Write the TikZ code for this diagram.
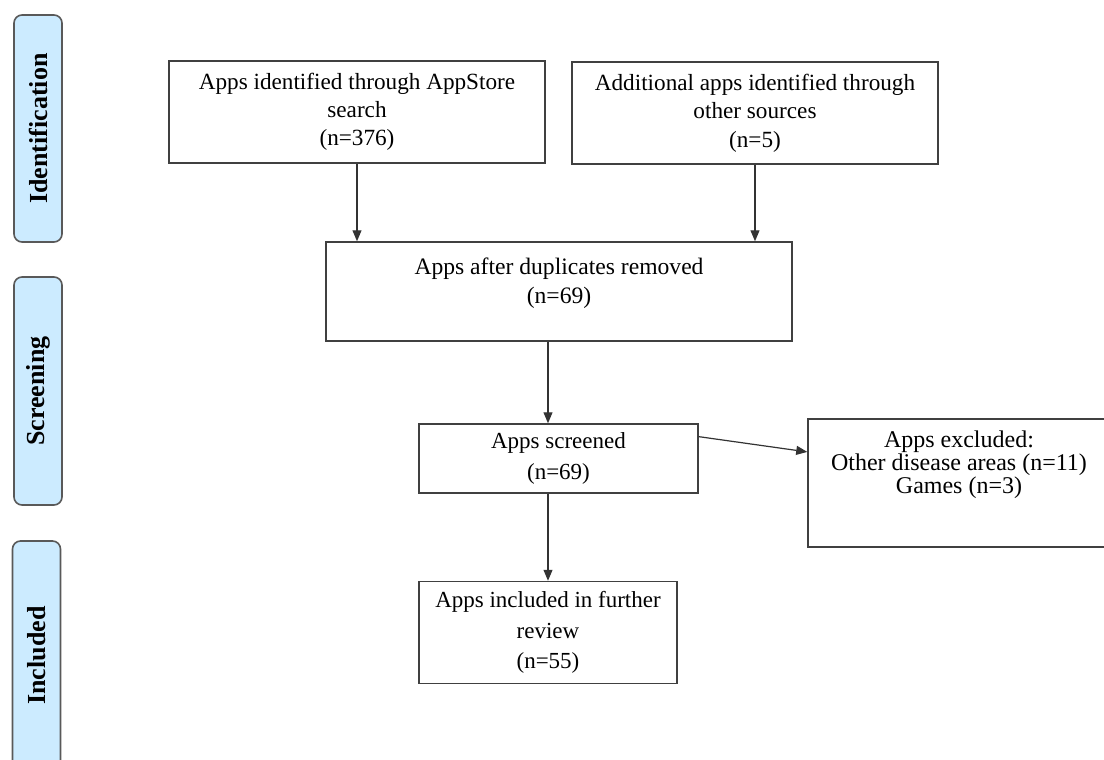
\documentclass[tikz,border=0pt]{standalone}
\usepackage{fontspec}
\setmainfont{Liberation Serif}
\usetikzlibrary{arrows.meta,calc}
\definecolor{stagefill}{HTML}{CCEBFF}
\definecolor{boxline}{HTML}{404040}
\tikzset{
  flowbox/.style={draw=boxline, line width=0.75pt, align=center, inner sep=2pt,
    font=\fontsize{11.5}{15.2}\selectfont},
  stage/.style={draw=black!65, fill=stagefill, line width=0.8pt, rounded corners=4pt,
    rotate=90, minimum height=24pt, font=\fontsize{13}{15}\selectfont\bfseries},
  flowarrow/.style={draw=black!80, line width=0.6pt, -{Triangle[length=5.5pt,width=4.5pt]}}
}
\begin{document}
\begin{tikzpicture}[x=0.5pt, y=-0.5pt]
  \useasboundingbox (0,0) rectangle (1104,760);
  % stages on the left
  \node[stage, minimum width=113.5pt] (ident) at (38,128.5) {Identification};
  \node[stage, minimum width=114pt] (screen) at (38,391) {Screening};
  \node[stage, minimum width=114.5pt] (incl) at (36.5,655.5) {Included};
  % flow boxes
  \node[flowbox, minimum width=188pt, minimum height=51pt, font=\fontsize{11.6}{14}\selectfont] (store) at (357,112)
    {Apps identified through AppStore\\search\\(n=376)};
  \node[flowbox, minimum width=183pt, minimum height=51pt, font=\fontsize{11.6}{14.2}\selectfont] (other) at (755,113)
    {Additional apps identified through\\other sources\\(n=5)};
  \node[flowbox, minimum width=233pt, minimum height=49.5pt, text depth=11pt,
    font=\fontsize{11.8}{14.5}\selectfont] (dedup) at (559,291.5)
    {Apps after duplicates removed\\(n=69)};
  \node[flowbox, minimum width=139.5pt, minimum height=34.5pt] (screened) at (558.5,458.5)
    {Apps screened\\(n=69)};
  \node[flowbox, minimum width=151pt, minimum height=64pt, text depth=21pt,
    font=\fontsize{12}{11.6}\selectfont] (excl) at (959,483)
    {Apps excluded:\\Other disease areas (n=11)\\Games (n=3)};
  \node[flowbox, minimum width=129pt, minimum height=51pt] (included) at (548,632.5)
    {Apps included in further\\review\\(n=55)};
  % connectors
  \draw[flowarrow] (store) -- (store |- dedup.north);
  \draw[flowarrow] (other) -- (other |- dedup.north);
  \draw[flowarrow] (dedup.south -| included.north) -- (screened.north -| included.north);
  \draw[flowarrow] ($(screened.north east)!0.19!(screened.south east)$)
    -- ($(excl.north west)!0.26!(excl.south west)$);
  \draw[flowarrow] (screened.south -| included.north) -- (included.north);
\end{tikzpicture}
\end{document}
